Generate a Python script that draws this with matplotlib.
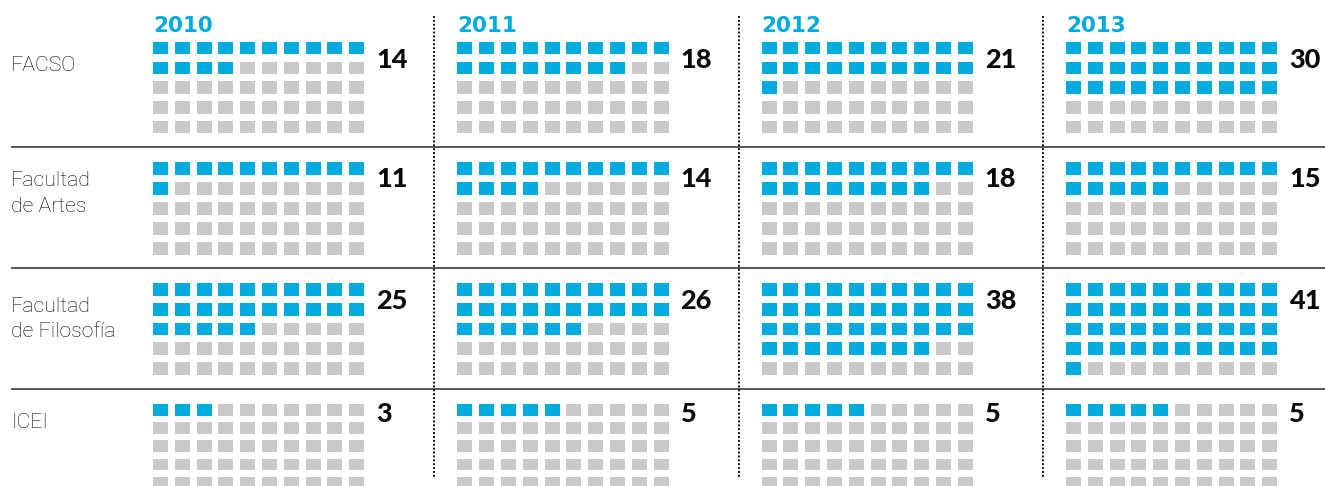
import numpy as np
import matplotlib.pyplot as plt
from matplotlib.patches import Rectangle
from matplotlib.collections import PatchCollection

years = ["2010", "2011", "2012", "2013"]
faculties = ["FACSO", "Facultad\nde Artes", "Facultad\nde Filosofía", "ICEI"]
facso = [14, 18, 21, 30]
artes = [11, 14, 18, 15]
filosofia = [25, 26, 38, 41]
icei = [3, 5, 5, 5]
values = [facso, artes, filosofia, icei]

BLUE = "#00abdf"
GRAY = "#c8c9cb"
N_COLS, N_ROWS = 10, 5

# layout, in pixels (y grows downward)
x0, year_step = 153, 304.3
col_step, sq_w = 21.8, 15
block_tops = [42, 162, 283.3, 404]
row_steps = [19.7, 20, 19.7, 18.2]
sq_hs = [12.5, 13, 12.7, 11.7]
label_base = [29, 24, 28.5, 24.3]
num_base = [26, 25, 25.5, 18]
line_px = 25.5

fig = plt.figure(figsize=(13.25, 4.86), dpi=100)
ax = fig.add_axes([0, 0, 1, 1])
ax.set_xlim(0, 1325)
ax.set_ylim(486, 0)
ax.axis("off")

rects, colors = [], []
for i, row_vals in enumerate(values):
    top = block_tops[i]
    for j, v in enumerate(row_vals):
        gx = x0 + j * year_step
        for k in range(N_COLS * N_ROWS):
            r, c = divmod(k, N_COLS)
            rects.append(Rectangle((gx + c * col_step, top + r * row_steps[i]),
                                   sq_w, sq_hs[i]))
            colors.append(BLUE if k < v else GRAY)
        # value label
        ax.text(gx + (N_COLS - 1) * col_step + sq_w + 12, top + num_base[i], str(v),
                va="baseline", ha="left", fontsize=19.5, fontweight="black",
                family=["Lato", "DejaVu Sans"], color="#0a0a0a")

    # faculty name
    for n, line in enumerate(faculties[i].split("\n")):
        ax.text(11, top + label_base[i] + n * line_px, line, va="baseline", ha="left",
                fontsize=15.3, fontweight="light", family=["Roboto", "DejaVu Sans"],
                color="#050505")

ax.add_collection(PatchCollection(rects, facecolors=colors, edgecolors="none"))

# separators between faculties
for top in block_tops[1:]:
    ax.hlines(top - 15, 11, 1325, color="#2a2a2a", lw=1.1)

# dotted dividers between years
for j in range(1, len(years)):
    ax.vlines(x0 + j * year_step - 23, 16, 479, color="#111111", lw=1.4,
              linestyles=(0, (1, 1)))

# year headers
for j, y in enumerate(years):
    ax.text(x0 + j * year_step, 32, y, va="baseline", ha="left", fontsize=15.5,
            fontweight="bold", family="DejaVu Sans", color=BLUE)

fig.savefig("out.png", dpi=100)
